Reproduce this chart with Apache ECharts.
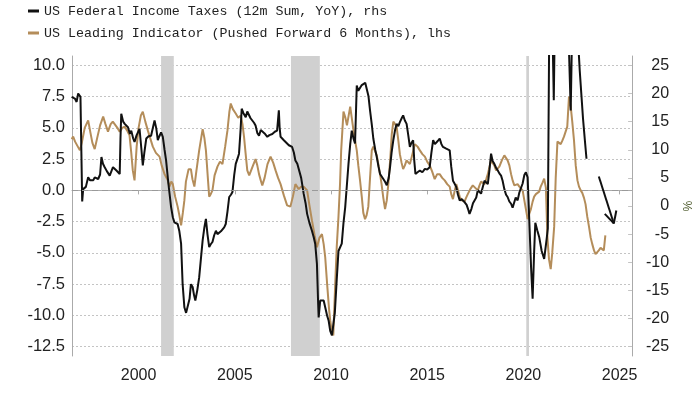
<!DOCTYPE html>
<html>
<head>
<meta charset="utf-8">
<script src="https://cdn.jsdelivr.net/npm/echarts/dist/echarts.min.js"></script>
<style>
html,body{margin:0;padding:0;background:#fff;}
#chart{width:700px;height:394px;}
</style>
</head>
<body>
<div id="chart"></div>
<script>
const taxName = 'US Federal Income Taxes (12m Sum, YoY), rhs';
const leiName = 'US Leading Indicator (Pushed Forward 6 Months), lhs';

const xTicks = [2000, 2005, 2010, 2015, 2020, 2025];
const leftTicks = [-12.5, -10, -7.5, -5, -2.5, 0, 2.5, 5, 7.5, 10];
const rightTicks = [-25, -20, -15, -10, -5, 0, 5, 10, 15, 20, 25];

const recessions = [[2001.17, 2001.83], [2007.92, 2009.42], [2020.15, 2020.29]];

const taxYears = [
1996.52,1996.69,1996.78,1996.86,1996.98,1997.07,1997.12,1997.2,1997.26,1997.38,1997.47,1997.55,1997.65,1997.72,1997.9,
1998.0,1998.07,1998.15,1998.24,1998.35,1998.5,1998.6,1998.67,1998.75,1998.85,1999.02,1999.06,1999.1,1999.2,1999.28,
1999.38,1999.45,1999.55,1999.62,1999.72,1999.79,1999.9,2000.05,2000.15,2000.22,2000.3,2000.4,2000.52,2000.65,2000.75,
2000.83,2000.92,2001.0,2001.08,2001.17,2001.26,2001.35,2001.43,2001.55,2001.69,2001.78,2001.86,2002.03,2002.12,2002.21,
2002.29,2002.38,2002.47,2002.55,2002.65,2002.72,2002.81,2002.88,2002.95,2003.05,2003.15,2003.25,2003.33,2003.42,2003.5,
2003.58,2003.67,2003.75,2003.84,2003.93,2004.02,2004.1,2004.19,2004.28,2004.36,2004.45,2004.53,2004.62,2004.71,2004.8,
2004.88,2004.97,2005.05,2005.15,2005.22,2005.3,2005.36,2005.45,2005.57,2005.65,2005.74,2005.82,2005.91,2006.0,2006.08,
2006.17,2006.26,2006.35,2006.43,2006.55,2006.69,2006.8,2006.95,2007.08,2007.2,2007.29,2007.33,2007.38,2007.45,2007.55,
2007.65,2007.81,2007.9,2007.98,2008.07,2008.15,2008.25,2008.32,2008.45,2008.58,2008.68,2008.76,2008.88,2009.01,2009.1,
2009.18,2009.27,2009.33,2009.36,2009.44,2009.53,2009.62,2009.7,2009.8,2009.88,2009.96,2010.05,2010.12,2010.2,2010.3,
2010.39,2010.56,2010.65,2010.74,2010.91,2011.0,2011.08,2011.17,2011.25,2011.34,2011.42,2011.51,2011.6,2011.69,2011.78,
2011.86,2011.95,2012.03,2012.12,2012.2,2012.3,2012.38,2012.47,2012.55,2012.64,2012.72,2012.81,2012.9,2013.0,2013.07,
2013.15,2013.24,2013.33,2013.41,2013.5,2013.58,2013.66,2013.75,2013.84,2013.93,2014.02,2014.1,2014.18,2014.27,2014.33,
2014.39,2014.5,2014.62,2014.75,2014.88,2015.0,2015.13,2015.22,2015.31,2015.4,2015.48,2015.56,2015.65,2015.74,2015.82,
2015.9,2015.99,2016.08,2016.17,2016.25,2016.34,2016.42,2016.51,2016.6,2016.69,2016.8,2016.94,2017.05,2017.12,2017.2,
2017.3,2017.38,2017.46,2017.55,2017.63,2017.72,2017.8,2017.9,2017.98,2018.07,2018.15,2018.24,2018.32,2018.4,2018.49,
2018.58,2018.67,2018.75,2018.84,2018.92,2019.01,2019.1,2019.18,2019.27,2019.36,2019.44,2019.53,2019.6,2019.7,2019.79,
2019.88,2019.96,2020.05,2020.13,2020.22,2020.3,2020.4,2020.48,2020.56,2020.62,2020.72,2020.82,2020.95,2021.08,2021.2,
2021.27,2021.35,2021.45,2021.52,2021.58,2021.66,2021.77,2021.9,2022.05,2022.2,2022.35,2022.46,2022.55,2022.65,2022.75,
2022.85,2022.93,2023.02,2023.1,2023.2,2023.28
];
const taxValues = [
19.4,19.1,18.5,20.0,19.4,0.8,3.0,3.3,3.4,5.1,4.6,4.9,4.6,5.1,4.8,
5.6,8.7,7.5,6.9,6.2,5.4,6.3,6.9,6.6,6.3,5.7,12.0,16.4,15.0,14.6,
14.5,14.0,12.8,13.4,12.0,11.4,12.6,13.7,10.0,7.2,9.5,12.0,12.4,12.5,14.0,
15.2,13.8,11.7,12.4,13.1,12.3,10.0,8.1,4.0,-0.2,-2.0,-2.9,-3.2,-4.5,-6.7,
-13.9,-18.0,-19.0,-19.2,-16.5,-13.9,-14.4,-15.8,-16.8,-15.0,-12.7,-9.0,-6.1,-3.8,-2.3,
-5.0,-7.3,-6.8,-6.4,-5.2,-4.4,-5.0,-5.0,-4.5,-4.7,-3.8,-3.2,-1.0,1.6,2.0,
2.5,5.5,7.5,8.5,9.3,13.5,17.3,16.5,15.8,16.8,16.7,15.6,15.2,14.8,14.3,
13.0,12.5,13.5,13.7,12.9,12.3,12.6,12.8,13.2,13.4,17.0,14.0,12.3,12.0,11.7,
11.5,10.8,10.9,10.5,9.5,8.1,7.5,7.2,5.0,2.2,0.5,-1.4,-3.0,-4.4,-5.5,
-6.7,-10.3,-17.0,-19.8,-16.8,-16.5,-16.8,-18.0,-19.5,-20.4,-22.2,-23.0,-23.2,-19.0,-13.0,
-8.0,-6.7,-3.0,-0.2,7.5,11.0,13.4,12.0,11.1,21.4,20.5,20.6,21.5,21.7,21.9,
21.7,19.5,17.0,14.5,12.0,10.0,8.7,7.0,5.7,5.5,4.8,4.3,3.7,5.0,6.9,
9.5,11.7,13.5,14.6,14.2,14.9,15.5,16.1,15.2,14.6,12.5,10.5,11.2,11.7,8.0,
5.7,6.0,6.3,6.0,6.6,6.5,6.9,9.5,11.7,11.0,11.1,11.6,12.0,11.0,10.5,
10.8,10.2,9.9,9.9,7.0,4.5,4.0,3.4,2.0,1.0,1.2,0.7,0.2,-0.5,-1.4,
-0.5,0.5,0.4,1.5,2.8,2.5,2.2,3.5,4.5,4.5,3.9,6.5,9.3,8.0,7.5,
6.8,6.3,5.8,5.4,4.5,3.0,2.0,1.6,0.8,0.4,-0.3,-0.5,1.5,1.0,2.4,
2.2,4.0,5.5,6.0,5.1,-2.0,-11.0,-16.5,-8.0,-3.0,-4.3,-5.5,-8.0,-9.4,-6.1,
-4.0,35,45,30,18.8,40,50,60,55,45,30,17,35,45,38,
29,24,19.5,15.5,11.5,8.4
];

const leiYears = [
1996.52,1996.6,1996.7,1996.8,1996.95,1997.05,1997.2,1997.38,1997.5,1997.6,1997.72,1997.85,1998.0,1998.16,1998.28,
1998.41,1998.55,1998.66,1998.76,1998.9,1999.02,1999.15,1999.28,1999.4,1999.53,1999.62,1999.7,1999.79,1999.9,2000.0,
2000.12,2000.22,2000.35,2000.48,2000.6,2000.74,2000.9,2001.09,2001.2,2001.35,2001.52,2001.6,2001.7,2001.78,2001.9,
2002.03,2002.12,2002.21,2002.3,2002.38,2002.46,2002.6,2002.72,2002.8,2002.9,2003.0,2003.15,2003.33,2003.42,2003.5,
2003.6,2003.67,2003.75,2003.84,2003.95,2004.1,2004.23,2004.36,2004.5,2004.62,2004.72,2004.79,2004.9,2005.05,2005.18,
2005.31,2005.4,2005.48,2005.56,2005.65,2005.75,2005.83,2005.95,2006.08,2006.17,2006.26,2006.35,2006.43,2006.55,2006.7,
2006.86,2007.0,2007.12,2007.25,2007.38,2007.55,2007.72,2007.89,2008.02,2008.15,2008.24,2008.32,2008.45,2008.58,2008.68,
2008.76,2008.88,2009.01,2009.15,2009.27,2009.4,2009.53,2009.62,2009.7,2009.8,2009.9,2009.96,2010.05,2010.12,2010.22,
2010.3,2010.39,2010.47,2010.53,2010.65,2010.75,2010.83,2010.92,2011.0,2011.08,2011.17,2011.25,2011.34,2011.42,2011.51,
2011.6,2011.68,2011.77,2011.85,2011.94,2012.03,2012.12,2012.2,2012.29,2012.38,2012.46,2012.55,2012.63,2012.72,2012.81,
2012.9,2012.98,2013.08,2013.16,2013.24,2013.33,2013.41,2013.5,2013.58,2013.67,2013.75,2013.84,2013.93,2014.02,2014.1,
2014.2,2014.28,2014.36,2014.5,2014.62,2014.75,2014.88,2015.0,2015.13,2015.26,2015.39,2015.52,2015.65,2015.78,2015.91,
2016.04,2016.17,2016.25,2016.34,2016.42,2016.51,2016.6,2016.69,2016.8,2016.94,2017.02,2017.11,2017.24,2017.37,2017.5,
2017.63,2017.72,2017.8,2017.9,2017.98,2018.07,2018.15,2018.24,2018.32,2018.4,2018.49,2018.58,2018.67,2018.75,2018.88,
2019.01,2019.1,2019.18,2019.27,2019.36,2019.44,2019.53,2019.62,2019.7,2019.79,2019.88,2019.96,2020.05,2020.13,2020.22,
2020.3,2020.39,2020.48,2020.56,2020.65,2020.73,2020.82,2020.9,2020.99,2021.08,2021.17,2021.25,2021.33,2021.42,2021.5,
2021.6,2021.68,2021.77,2021.86,2021.94,2022.03,2022.11,2022.2,2022.28,2022.37,2022.46,2022.54,2022.63,2022.72,2022.81,
2022.89,2022.98,2023.06,2023.15,2023.23,2023.32,2023.41,2023.5,2023.58,2023.67,2023.75,2023.84,2023.92,2024.01,2024.09,
2024.18,2024.26
];
const leiValues = [
4.1,4.3,3.9,4.0,3.2,3.8,5.0,5.6,4.6,3.8,3.3,4.2,5.2,5.9,5.3,
4.7,5.3,5.5,5.5,5.0,4.7,5.0,5.1,4.8,4.4,3.0,1.6,0.8,3.5,5.0,
6.0,6.3,5.5,4.8,4.2,3.5,3.0,2.7,2.0,1.3,0.8,0.3,0.7,0.5,-0.5,
-1.3,-2.0,-2.8,-1.8,-0.8,0.7,1.7,1.7,0.9,0.3,1.5,3.2,4.9,4.2,3.2,
1.0,-0.5,-0.3,0.0,1.2,1.9,2.3,2.1,3.5,4.8,6.3,6.95,6.5,6.15,5.8,
6.0,5.3,4.3,3.0,1.6,1.2,1.1,2.0,2.5,2.0,1.3,0.8,0.4,1.0,2.1,
2.7,2.2,1.6,1.0,0.5,-0.4,-1.2,-1.3,-0.5,0.5,0.3,0.1,0.3,0.3,0.2,
0.0,-1.2,-2.4,-3.6,-4.55,-3.8,-3.5,-4.3,-5.35,-7.5,-9.5,-10.4,-11.4,-11.6,-7.5,
-4.5,-2.1,0.5,3.2,6.3,5.8,5.2,6.0,6.7,5.8,4.8,4.0,3.2,2.0,0.8,
-0.5,-1.8,-2.3,-2.0,-1.3,1.0,3.2,3.5,3.5,2.8,2.1,1.3,0.5,-0.6,-1.5,
-0.8,0.5,2.5,4.5,5.5,5.3,5.1,4.0,2.9,2.2,1.7,2.0,2.4,2.3,2.1,
2.7,3.2,3.7,3.5,3.2,2.9,2.7,2.3,2.0,1.5,0.9,1.3,1.3,1.0,0.8,
0.5,0.3,-0.3,-0.7,-0.1,0.5,0.0,-0.5,-0.8,-0.9,-0.6,-0.3,0.1,0.4,0.2,
0.0,0.4,0.7,0.6,0.5,0.9,1.3,1.9,2.4,2.2,2.0,1.6,1.7,1.9,2.4,
2.8,2.7,2.4,2.0,1.3,0.8,0.4,0.3,0.5,0.3,0.4,0.0,-0.8,-1.5,-2.3,
-1.9,-1.5,-0.9,-0.5,-0.3,-0.4,-0.1,0.3,0.6,0.94,0.2,-3.8,-5.5,-6.3,-5.0,
-2.9,1.0,3.9,3.8,3.7,4.0,4.3,4.3,5.1,7.5,6.7,5.5,4.0,2.0,0.8,
0.3,0.0,-0.2,-0.6,-1.1,-2.1,-2.9,-3.8,-4.3,-4.8,-5.1,-4.95,-4.8,-4.6,-4.7,
-4.8,-3.6
];

// annotation arrow (year, rhs value): shaft start, tip, two head ends
const arrowStart = [2023.92, 5.25];
const arrowTip = [2024.70, -3.1];
const arrowHeadA = [2024.23, -1.4];
const arrowHeadB = [2024.83, -0.8];

const taxData = taxYears.map((y, i) => [y, taxValues[i]]);
const leiData = leiYears.map((y, i) => [y, leiValues[i]]);

const axisFont = 'Liberation Sans';
const axisColor = '#222';
const lineGray = '#aaaaaa';

const chart = echarts.init(document.getElementById('chart'), null, {renderer: 'canvas'});
chart.setOption({
  animation: false,
  backgroundColor: '#ffffff',
  legend: {
    orient: 'vertical',
    left: 28, top: 3, padding: 0,
    itemWidth: 11, itemHeight: 3, itemGap: 6,
    icon: 'rect',
    data: [taxName, leiName],
    textStyle: {fontFamily: 'Liberation Mono', fontSize: 13.3, color: '#222', lineHeight: 16}
  },
  grid: {left: 72, right: 65, top: 56, bottom: 38, containLabel: false},
  xAxis: {
    type: 'value', min: 1996.54, max: 2025.65,
    axisLine: {show: true, lineStyle: {color: lineGray, width: 1}},
    axisTick: {show: true, length: 4, lineStyle: {color: lineGray}, customValues: xTicks},
    axisLabel: {customValues: xTicks, formatter: v => String(v), fontFamily: axisFont, fontSize: 16, color: axisColor, margin: 12},
    splitLine: {show: false}
  },
  yAxis: [{
    type: 'value', position: 'left', min: -13.25, max: 10.75,
    axisLine: {show: true, lineStyle: {color: lineGray}},
    axisTick: {show: false, customValues: leftTicks},
    axisLabel: {customValues: leftTicks, formatter: v => v.toFixed(1), fontFamily: axisFont, fontSize: 16.5, color: axisColor, margin: 7},
    splitLine: {show: true, lineStyle: {color: '#c4c4c4', type: [2, 2], width: 1}}
  }, {
    type: 'value', position: 'right', min: -26.667, max: 26.667,
    axisLine: {show: true, lineStyle: {color: lineGray}},
    axisTick: {show: true, inside: true, length: 4, lineStyle: {color: '#c4c4c4'}, customValues: rightTicks},
    axisLabel: {customValues: rightTicks, formatter: v => String(v), fontFamily: axisFont, fontSize: 16, color: axisColor, margin: 37, align: 'right'},
    splitLine: {show: false},
    name: '%', nameLocation: 'middle', nameRotate: -90, nameGap: 42,
    nameTextStyle: {fontFamily: axisFont, fontSize: 12, color: '#4d5a2c'}
  }],
  series: [{
    name: leiName, type: 'line', yAxisIndex: 0, data: leiData,
    showSymbol: false, symbol: 'none', smooth: false,
    lineStyle: {color: '#b48d5a', width: 2}, itemStyle: {color: '#b48d5a'},
    z: 3,
    markArea: {
      silent: true, z: 1,
      itemStyle: {color: '#d0d0d0'},
      data: recessions.map(r => [{xAxis: r[0]}, {xAxis: r[1]}])
    },
    markLine: {
      silent: true, symbol: ['none', 'none'], label: {show: false},
      lineStyle: {color: '#9a9a9a', type: [6, 4], width: 1},
      data: [{yAxis: 0}]
    }
  }, {
    name: taxName, type: 'line', yAxisIndex: 1, data: taxData,
    showSymbol: false, symbol: 'none', smooth: false,
    lineStyle: {color: '#111111', width: 2}, itemStyle: {color: '#111111'},
    z: 4,
    markLine: {
      silent: true, symbol: ['none', 'none'], label: {show: false},
      lineStyle: {color: '#111111', type: 'solid', width: 2},
      data: [
        [{coord: arrowStart}, {coord: arrowTip}],
        [{coord: arrowHeadA}, {coord: arrowTip}],
        [{coord: arrowHeadB}, {coord: arrowTip}]
      ]
    }
  }]
});
</script>
</body>
</html>
